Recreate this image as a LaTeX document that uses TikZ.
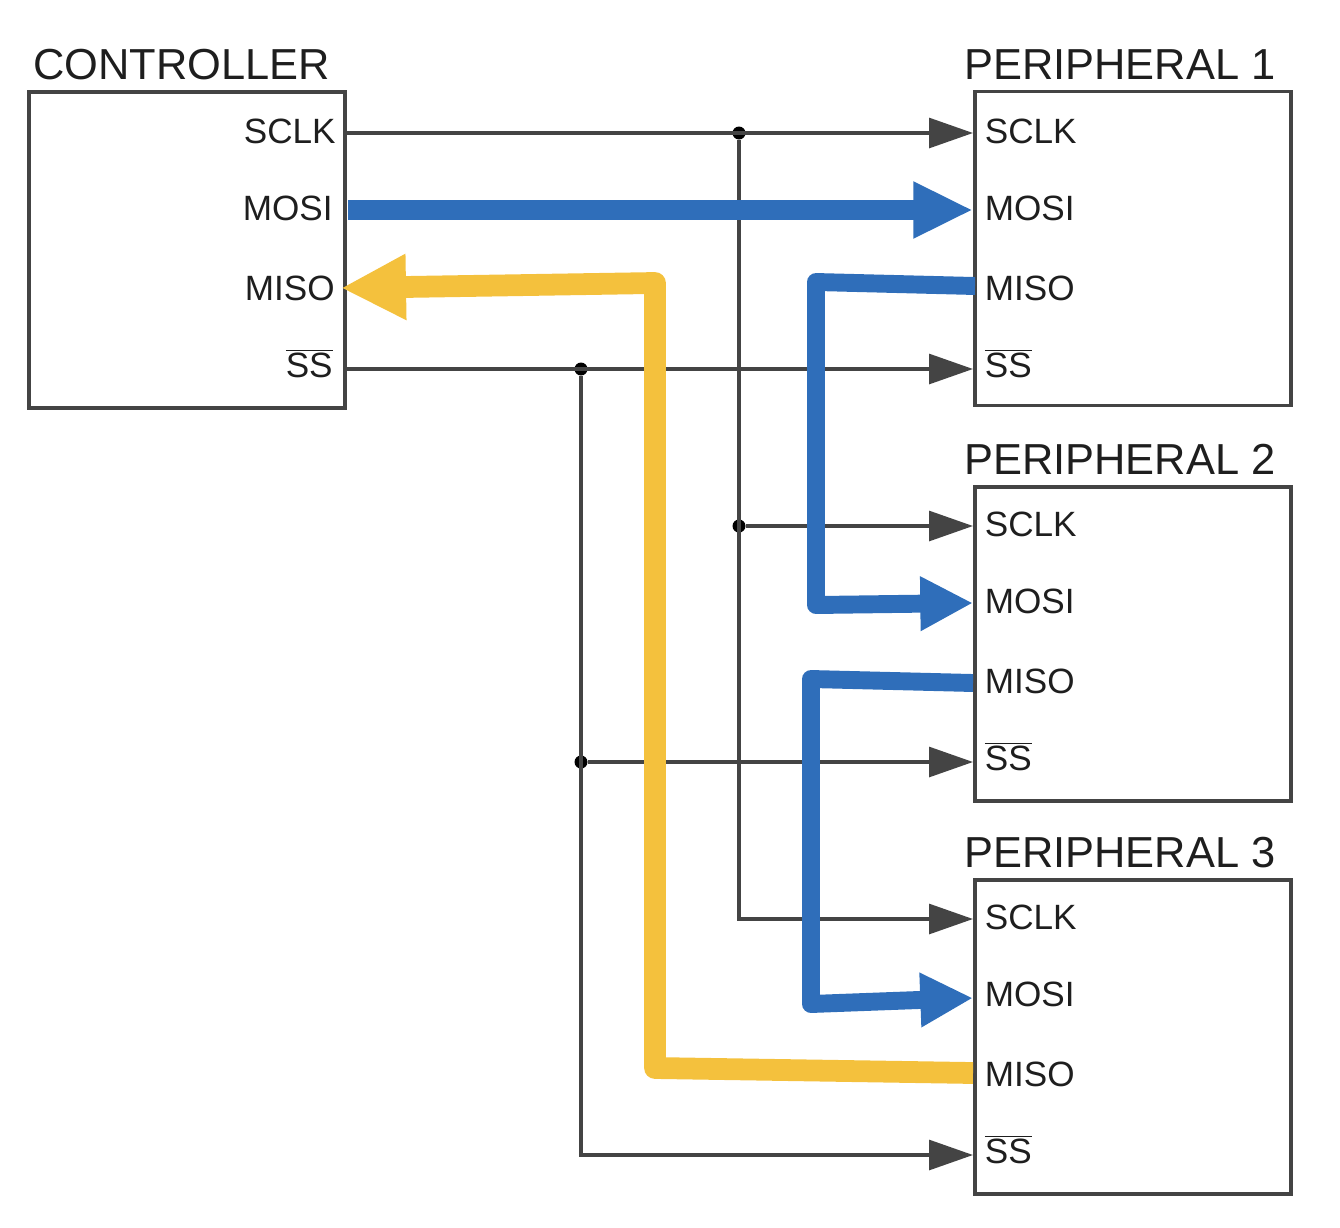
\documentclass[tikz,border=0pt]{standalone}
\usepackage{fontspec}
\setmainfont{Liberation Sans}
\usetikzlibrary{arrows.meta}
\definecolor{cwire}{RGB}{68,68,68}
\definecolor{cink}{RGB}{30,30,30}
\definecolor{cblue}{RGB}{47,110,186}
\definecolor{cyellow}{RGB}{244,193,61}
\tikzset{
  devbox/.style={draw=cwire,line width=2.1pt,rectangle,inner sep=0pt,outer sep=0pt,minimum width=6.32cm},
  devname/.style={anchor=base west,inner sep=0pt,text=cink,font=\fontsize{24.7}{28}\selectfont},
  pinleft/.style={anchor=base west,inner sep=0pt,text=cink,font=\fontsize{20}{24}\selectfont},
  pinright/.style={anchor=base east,inner sep=0pt,text=cink,font=\fontsize{20}{24}\selectfont},
  wire/.style={draw=cwire,line width=1.9pt},
  wirearrow/.style={wire,-{Triangle[length=25pt,width=17pt]}},
  junction/.style={circle,fill=black,inner sep=0pt,minimum size=0.26cm},
  bluewire/.style={draw=cblue,line width=10.2pt,line join=round,-{Triangle[length=30pt,width=29pt]}},
  mainwire/.style={draw=cblue,line width=11pt,-{Triangle[length=34pt,width=30pt]}},
  yellowwire/.style={draw=cyellow,line width=12.4pt,line join=round,-{Triangle[length=37pt,width=35pt]}},
}
\begin{document}
\begin{tikzpicture}[x=0.02cm,y=-0.02cm]
  \useasboundingbox (0,0) rectangle (1340,1228);
  % controller
  \node[devbox,minimum height=6.32cm] (ctrl) at (187,250) {};
  \node[devname] (ctrlname) at (33,79) {CONTROLLER};
  \node[pinright] (ctrlsclk) at (336,143) {SCLK};
  \node[pinright] (ctrlmosi) at (333,220) {MOSI};
  \node[pinright] (ctrlmiso) at (335,300) {MISO};
  \node[pinright] (ctrlss) at (333,377) {\(\overline{\hbox{SS}}\)};
  % peripherals: number/centre/name/label baselines
  \foreach \n/\c/\t/\a/\b/\d/\e in {1/248.5/79/143/220/300/377,2/644/474/536/613/693/770,3/1037/867/929/1006/1086/1163} {
    \node[devbox,minimum height=6.28cm] (per\n) at (1133,\c) {};
    \node[devname] (per\n name) at (964,\t) {PERIPHERAL \n};
    \node[pinleft] (per\n sclk) at (984.5,\a) {SCLK};
    \node[pinleft] (per\n mosi) at (984.5,\b) {MOSI};
    \node[pinleft] (per\n miso) at (984.5,\d) {MISO};
    \node[pinleft] (per\n ss) at (984.5,\e) {\(\overline{\hbox{SS}}\)};
  }
  % pin ends on the box edges
  \coordinate (csclk) at (345,133);
  \coordinate (css) at (345,369);
  \coordinate (cmosi) at (348,210);
  \coordinate (cmiso) at (341,288);
  \coordinate (asclk) at (973,133);
  \coordinate (amosi) at (973,210);
  \coordinate (amiso) at (975,286);
  \coordinate (ass) at (973,369);
  \coordinate (bsclk) at (973,526);
  \coordinate (bmosi) at (973,603);
  \coordinate (bmiso) at (973,683);
  \coordinate (bss) at (973,762);
  \coordinate (dsclk) at (973,919);
  \coordinate (dmosi) at (973,998);
  \coordinate (dmiso) at (973,1073);
  \coordinate (dss) at (973,1155);
  % junctions
  \node[junction] (jsclka) at (739,133) {};
  \node[junction] (jsclkb) at (739,526) {};
  \node[junction] (jssa) at (581,369) {};
  \node[junction] (jssb) at (581,762) {};
  % clock and select lines
  \draw[wirearrow] (csclk) -- (asclk);
  \draw[wirearrow] (css) -- (ass);
  \draw[wirearrow] (jsclkb) -- (bsclk);
  \draw[wirearrow] (jssb) -- (bss);
  \draw[wirearrow] (jsclka) |- (dsclk);
  \draw[wirearrow] (jssa) |- (dss);
  % data chain
  \coordinate (benda) at (816,282);
  \coordinate (bendb) at (816,605);
  \coordinate (bendc) at (811,679);
  \coordinate (bendd) at (811,1004);
  \coordinate (bende) at (655,1068);
  \coordinate (bendf) at (655,283);
  \draw[mainwire] (cmosi) -- (amosi);
  \draw[bluewire] (amiso) -- (benda) -- (bendb) -- (bmosi);
  \draw[bluewire] (bmiso) -- (bendc) -- (bendd) -- (dmosi);
  \draw[yellowwire] (dmiso) -- (bende) -- (bendf) -- (cmiso);
\end{tikzpicture}
\end{document}
